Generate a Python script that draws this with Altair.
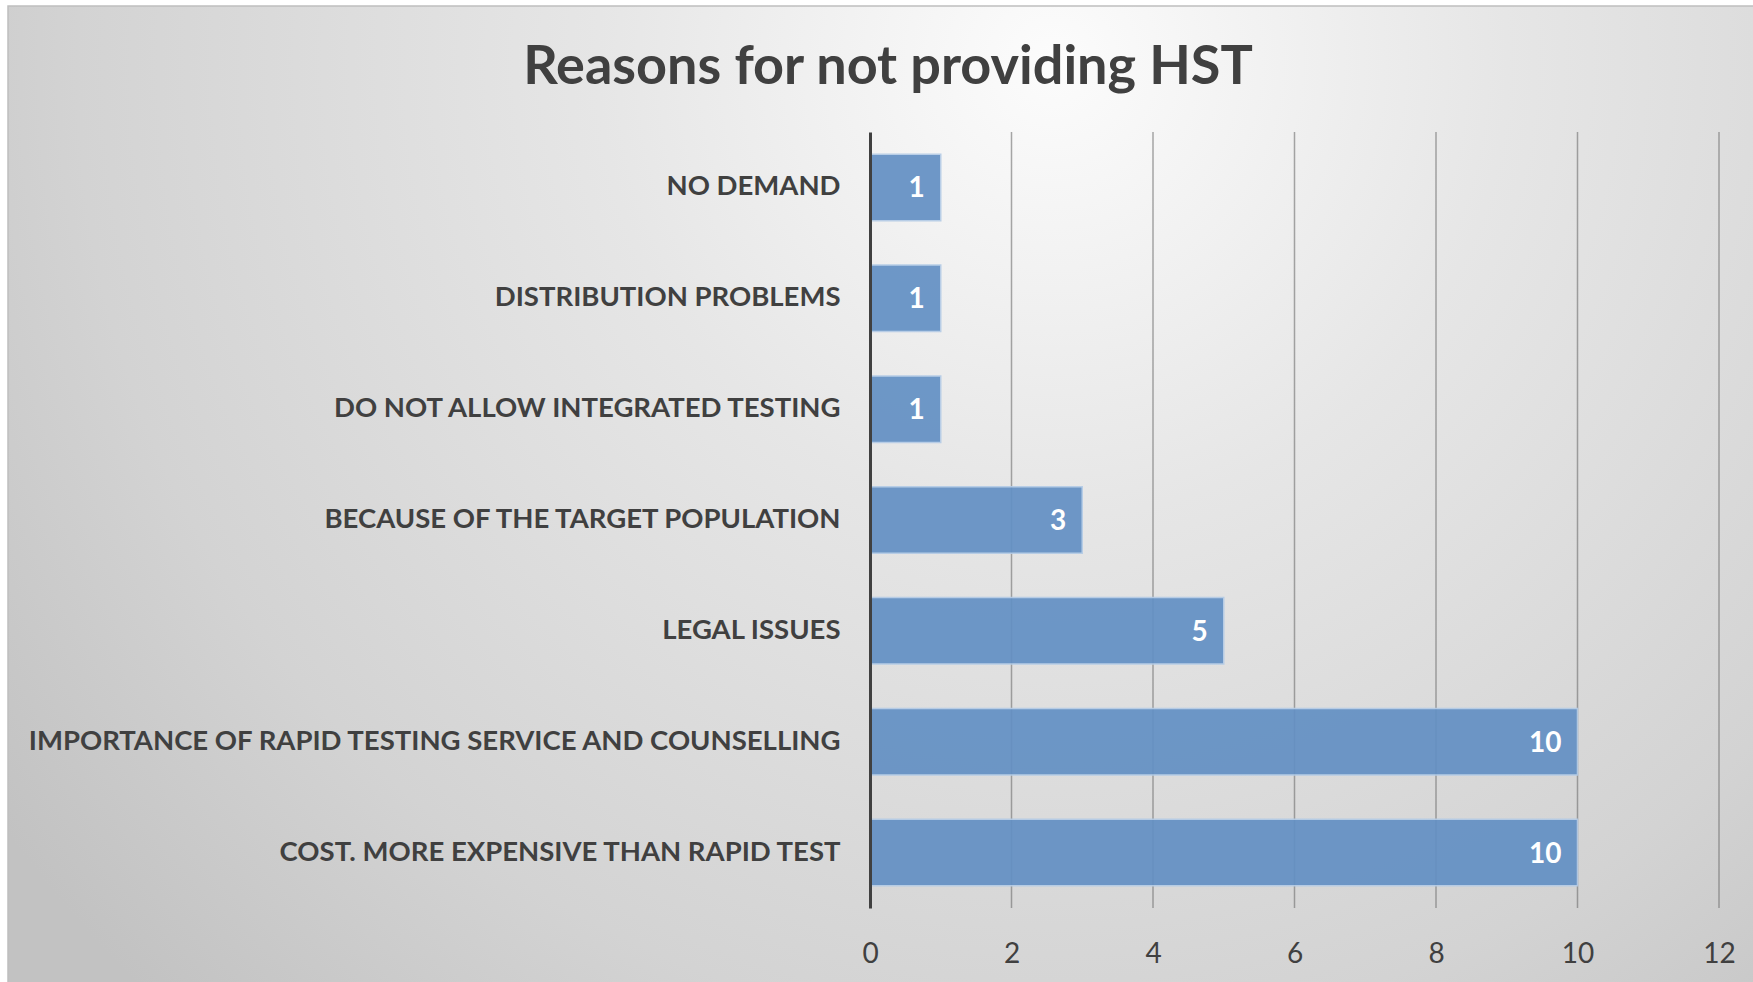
import altair as alt
import pandas as pd

# ---- data ----
categories = [
    "NO DEMAND",
    "DISTRIBUTION PROBLEMS",
    "DO NOT ALLOW INTEGRATED TESTING",
    "BECAUSE OF THE TARGET POPULATION",
    "LEGAL ISSUES",
    "IMPORTANCE OF RAPID TESTING SERVICE AND COUNSELLING",
    "COST. MORE EXPENSIVE THAN RAPID TEST",
]
counts = [1, 1, 1, 3, 5, 10, 10]
x_ticks = [0, 2, 4, 6, 8, 10, 12]
grid_ticks = [2, 4, 6, 8, 10, 12]
title_text = "Reasons for not providing HST"

df = pd.DataFrame({"reason": categories, "count": counts})
grid_df = pd.DataFrame({"tick": grid_ticks})

# ---- layout ----
W, H = 849, 776
PAD_L, PAD_T, PAD_R, PAD_B = 870, 132, 34, 74
FONT = "Lato"
TXT = "#404040"

x_scale = alt.Scale(domain=[0, 12], nice=False, zero=True)
y_scale = alt.Scale(domain=categories, paddingInner=0.4, paddingOuter=0.2)

x_axis = alt.Axis(
    values=x_ticks, grid=False, domain=False, ticks=False, title=None,
    labelFont=FONT, labelFontSize=28, labelColor=TXT, labelPadding=32,
    labelFlush=False, format="d", zindex=1,
)
y_axis = alt.Axis(
    domain=True, domainColor=TXT, domainWidth=3, ticks=False, grid=False,
    title=None, labelFont=FONT, labelFontWeight="bold", labelFontSize=27.5,
    labelColor=TXT, labelPadding=30, labelLimit=1000, zindex=1,
)

X = lambda f: alt.X(f, scale=x_scale, axis=x_axis)
Y = alt.Y("reason:N", scale=y_scale, sort=categories, axis=y_axis)

bg = alt.Chart(alt.Data(values=[{}])).mark_rect(
    fill=alt.RadialGradient(
        gradient="radial",
        stops=[
            alt.GradientStop(offset=0, color="#fcfcfc"),
            alt.GradientStop(offset=0.35, color="#e6e6e6"),
            alt.GradientStop(offset=0.75, color="#d3d3d3"),
            alt.GradientStop(offset=1, color="#c2c2c2"),
        ],
        x1=0.57, y1=0.023, r1=0,
        x2=0.57, y2=0.023, r2=0.544,
    ),
    stroke="#bfbfbf",
    strokeWidth=1.5,
).encode(
    x=alt.value(8 - PAD_L),
    x2=alt.value(1753 + 10 - PAD_L),
    y=alt.value(6 - PAD_T),
    y2=alt.value(6 - PAD_T + 2390),
)

title = alt.Chart(alt.Data(values=[{"t": title_text}])).mark_text(
    font=FONT, fontSize=54, fontWeight="bold", color=TXT,
    align="center", baseline="alphabetic",
).encode(
    text="t:N",
    x=alt.value(888 - PAD_L),
    y=alt.value(84 - PAD_T),
)

grid = alt.Chart(grid_df).mark_rule(color="#6e6e6e", strokeWidth=1.5, opacity=0.6).encode(
    x=X("tick:Q"),
    y=alt.value(0),
    y2=alt.value(H),
)

bars = alt.Chart(df).mark_bar(
    color="#6390c4", stroke="#b4cbe6", strokeWidth=1.5, opacity=0.92
).encode(x=X("count:Q"), y=Y)

labels = alt.Chart(df).mark_text(
    align="right", baseline="middle", dx=-16, dy=2, font=FONT, fontWeight="bold",
    fontSize=28, color="white",
).encode(x=X("count:Q"), y=Y, text=alt.Text("count:Q"))

chart = alt.layer(bg, title, grid, bars, labels).properties(
    width=W,
    height=H,
    padding={"left": PAD_L, "top": PAD_T, "right": PAD_R, "bottom": PAD_B},
    autosize=alt.AutoSizeParams(type="none"),
).configure_view(stroke=None).configure(background="white")

chart.save("out.html", embed_options={"renderer": "svg", "actions": False})
